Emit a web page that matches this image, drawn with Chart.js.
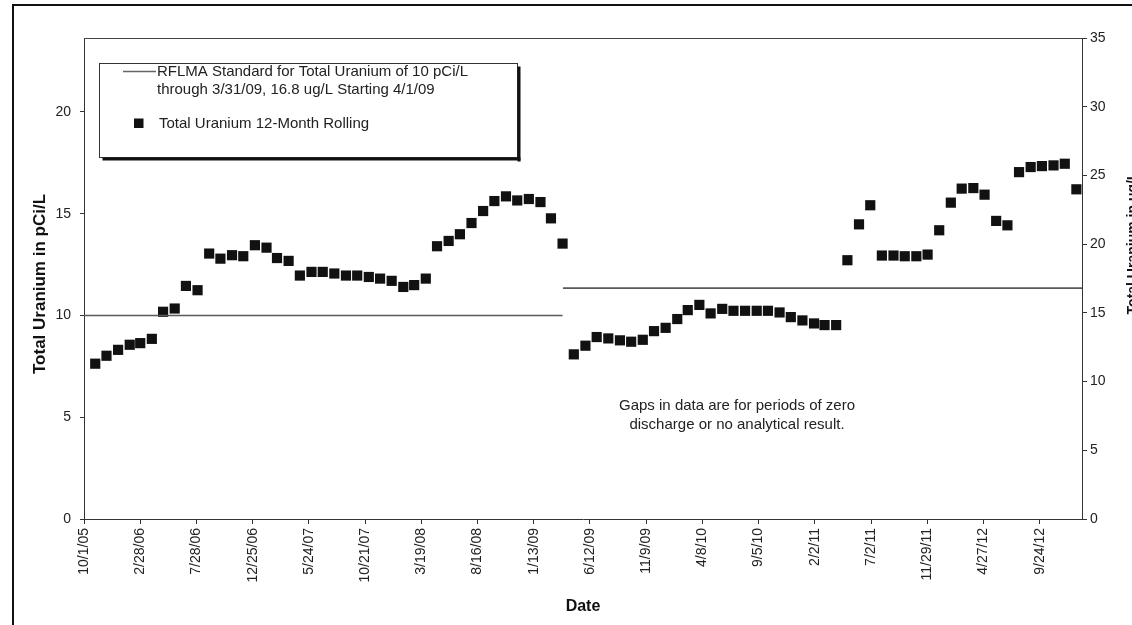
<!DOCTYPE html>
<html>
<head>
<meta charset="utf-8">
<script src="https://cdn.jsdelivr.net/npm/chart.js@4.4.0/dist/chart.umd.min.js"></script>
<style>
html,body{margin:0;padding:0;background:#fff;}
#wrap{width:1132px;height:625px;position:relative;}
</style>
</head>
<body>
<div id="wrap"><canvas id="c" width="1132" height="625"></canvas></div>
<script>
// ---- data ----
const tickLabels = ['10/1/05','2/28/06','7/28/06','12/25/06','5/24/07','10/21/07','3/19/08','8/16/08','1/13/09',
  '6/12/09','11/9/09','4/8/10','9/5/10','2/2/11','7/2/11','11/29/11','4/27/12','9/24/12'];

// Total Uranium 12-month rolling, pCi/L (left axis), through 3/31/09
const datesPCi = ['10/31/05','11/30/05','12/31/05','1/31/06','2/28/06','3/31/06','4/30/06','5/31/06','6/30/06','7/31/06',
  '8/31/06','9/30/06','10/31/06','11/30/06','12/31/06','1/31/07','2/28/07','3/31/07','4/30/07','5/31/07',
  '6/30/07','7/31/07','8/31/07','9/30/07','10/31/07','11/30/07','12/31/07','1/31/08','2/29/08','3/31/08',
  '4/30/08','5/31/08','6/30/08','7/31/08','8/31/08','9/30/08','10/31/08','11/30/08','12/31/08','1/31/09',
  '2/28/09','3/31/09'];
const uraniumPCi = [7.63,8.02,8.31,8.56,8.64,8.85,10.18,10.34,11.45,11.24,
  13.04,12.79,12.96,12.91,13.45,13.33,12.82,12.68,11.96,12.14,
  12.14,12.06,11.96,11.96,11.89,11.81,11.70,11.40,11.49,11.81,
  13.40,13.66,13.99,14.54,15.13,15.62,15.85,15.65,15.72,15.57,
  14.77,13.53];

// Total Uranium 12-month rolling, ug/L (right axis), starting 4/1/09
const datesUg = ['4/30/09','5/31/09','6/30/09','7/31/09','8/31/09','9/30/09','10/31/09','11/30/09','12/31/09','1/31/10',
  '2/28/10','3/31/10','4/30/10','5/31/10','6/30/10','7/31/10','8/31/10','9/30/10','10/31/10','11/30/10',
  '12/31/10','1/31/11','2/28/11','3/31/11','4/30/11','5/31/11','6/30/11','7/31/11','8/31/11','9/30/11',
  '10/31/11','11/30/11','12/31/11','1/31/12','2/29/12','3/31/12','4/30/12','5/31/12','6/30/12','7/31/12',
  '8/31/12','9/30/12','10/31/12','11/30/12','12/31/12'];
const uraniumUg = [11.98,12.61,13.24,13.14,13.00,12.90,13.04,13.67,13.91,14.55,
  15.20,15.58,14.96,15.29,15.15,15.15,15.15,15.15,15.03,14.69,
  14.45,14.23,14.11,14.11,18.83,21.44,22.83,19.17,19.17,19.12,
  19.12,19.24,21.01,23.02,24.04,24.08,23.60,21.69,21.37,25.24,
  25.61,25.68,25.73,25.85,23.99];

// RFLMA standard
const standardPCiDates = ['10/1/05','3/31/09'];
const standardPCi = [10, 10];
const standardUgDates = ['4/1/09','1/15/13'];
const standardUg = [16.8, 16.8];

const legendLines = ['RFLMA Standard for Total Uranium of 10 pCi/L','through 3/31/09, 16.8 ug/L Starting 4/1/09'];
const legendPoints = 'Total Uranium 12-Month Rolling';
const noteLines = ['Gaps in data are for periods of zero','discharge or no analytical result.'];
const yLeftTitle = 'Total Uranium in pCi/L';
const yRightTitle = 'Total Uranium in ug/L';
const xTitle = 'Date';

// ---- helpers ----
const origin = Date.UTC(2005, 9, 1);
function toDays(s){
  const p = s.split('/').map(Number);
  return Math.round((Date.UTC(2000 + p[2], p[0]-1, p[1]) - origin) / 86400000);
}
const FONT = "'Liberation Sans', Arial, sans-serif";
const pts = (d, v) => d.map((s,i)=>({x: toDays(s), y: v[i]}));

const extras = {
  id: 'extras',
  afterDraw(chart){
    const ctx = chart.ctx, a = chart.chartArea;
    ctx.save();
    // outer frame (clipped by page)
    ctx.strokeStyle = '#111'; ctx.lineWidth = 2;
    ctx.beginPath(); ctx.moveTo(13, 640); ctx.lineTo(13, 5); ctx.lineTo(1140, 5); ctx.stroke();
    // top border of plot area
    ctx.strokeStyle = '#444'; ctx.lineWidth = 1;
    ctx.beginPath(); ctx.moveTo(a.left, a.top + 0.5); ctx.lineTo(a.right, a.top + 0.5); ctx.stroke();

    // legend box
    const L = 99.5, T = 63.5, W = 418, H = 94;
    ctx.fillStyle = '#fff'; ctx.fillRect(L, T, W, H);
    ctx.strokeStyle = '#333'; ctx.lineWidth = 1; ctx.strokeRect(L, T, W, H);
    ctx.fillStyle = '#111';
    ctx.fillRect(L + W, T + 3, 3, H + 1);
    ctx.fillRect(L + 3, T + H, W, 3);
    ctx.strokeStyle = '#666'; ctx.lineWidth = 1.5;
    ctx.beginPath(); ctx.moveTo(123, 71.5); ctx.lineTo(156, 71.5); ctx.stroke();
    ctx.fillStyle = '#222'; ctx.font = '15px ' + FONT; ctx.textBaseline = 'middle'; ctx.textAlign = 'left';
    ctx.fillText(legendLines[0], 157, 72);
    ctx.fillText(legendLines[1], 157, 90);
    ctx.fillStyle = '#111'; ctx.fillRect(134, 118.5, 9.5, 9.5);
    ctx.fillStyle = '#222'; ctx.fillText(legendPoints, 159, 123.5);

    // note
    ctx.textAlign = 'center';
    ctx.fillText(noteLines[0], 737, 406);
    ctx.fillText(noteLines[1], 737, 425);

    // axis titles
    ctx.font = 'bold 16px ' + FONT; ctx.fillStyle = '#111';
    ctx.fillText(xTitle, (a.left + a.right) / 2, 607);
    ctx.save(); ctx.translate(40, 284); ctx.rotate(-Math.PI/2);
    ctx.font = 'bold 17px ' + FONT;
    ctx.fillText(yLeftTitle, 0, 0); ctx.restore();
    // right title: mostly cut off by the page edge, as in the scan
    ctx.save(); ctx.translate(1126, 243); ctx.rotate(-Math.PI/2);
    ctx.font = 'bold 14px ' + FONT; ctx.textBaseline = 'top';
    ctx.fillText(yRightTitle, 0, 0); ctx.restore();
    ctx.restore();
  }
};

const tickFont = {family: FONT, size: 14};
new Chart(document.getElementById('c'), {
  type: 'scatter',
  data: {
    datasets: [
      {label: 'RFLMA standard pCi/L', data: pts(standardPCiDates, standardPCi), yAxisID: 'yL', showLine: true,
       pointRadius: 0, borderColor: '#5a5a5a', borderWidth: 1.6},
      {label: 'RFLMA standard ug/L', data: pts(standardUgDates, standardUg), yAxisID: 'yR', showLine: true,
       pointRadius: 0, borderColor: '#5a5a5a', borderWidth: 1.6},
      {label: 'Total Uranium pCi/L', data: pts(datesPCi, uraniumPCi), yAxisID: 'yL', pointStyle: 'rect',
       pointRadius: 7.2, backgroundColor: '#111', borderColor: '#111', borderWidth: 0},
      {label: 'Total Uranium ug/L', data: pts(datesUg, uraniumUg), yAxisID: 'yR', pointStyle: 'rect',
       pointRadius: 7.2, backgroundColor: '#111', borderColor: '#111', borderWidth: 0}
    ]
  },
  options: {
    responsive: false, animation: false,
    layout: {padding: {top: 38, left: 0, right: 0, bottom: 0}},
    plugins: {legend: {display: false}, tooltip: {enabled: false}},
    scales: {
      x: {
        type: 'linear', position: 'bottom', min: 0, max: 2663,
        afterBuildTicks(ax){ ax.ticks = tickLabels.map(l => ({value: toDays(l)})); },
        afterFit(ax){ ax.height = 106; },
        grid: {drawOnChartArea: false, drawTicks: true, tickLength: 5, color: '#333'},
        border: {display: true, color: '#333', width: 1},
        ticks: {autoSkip: false, minRotation: 90, maxRotation: 90, padding: 4, color: '#222', font: tickFont,
          callback(v, i){ return tickLabels[i]; }}
      },
      yL: {
        type: 'linear', position: 'left', min: 0, max: 23.63,
        afterBuildTicks(ax){ ax.ticks = ax.ticks.filter(t => t.value % 5 === 0); },
        afterFit(ax){ ax.width = 84; },
        grid: {drawOnChartArea: false, drawTicks: true, tickLength: 4, color: '#333'},
        border: {display: true, color: '#333', width: 1},
        ticks: {stepSize: 5, padding: 9, color: '#222', font: tickFont}
      },
      yR: {
        type: 'linear', position: 'right', min: 0, max: 35,
        afterFit(ax){ ax.width = 50; },
        grid: {drawOnChartArea: false, drawTicks: true, tickLength: 5, color: '#333'},
        border: {display: true, color: '#333', width: 1},
        ticks: {stepSize: 5, padding: 3, color: '#222', font: tickFont}
      }
    }
  },
  plugins: [extras]
});
</script>
</body>
</html>
